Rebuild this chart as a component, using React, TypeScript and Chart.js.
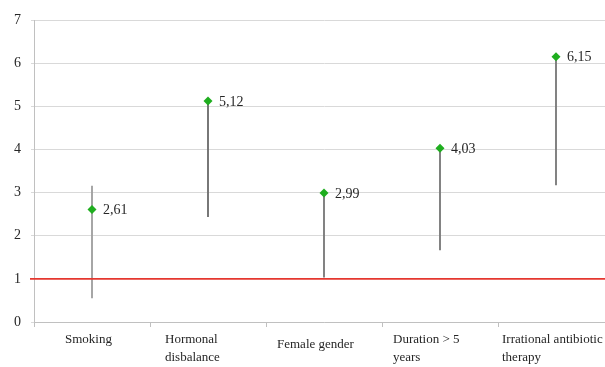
import React, { useEffect, useRef } from "react";
import { Chart, registerables } from "chart.js";

Chart.register(...registerables);

const categories: string[][] = [
  ["Smoking"],
  ["Hormonal", "disbalance"],
  ["Female gender"],
  ["Duration > 5", "years"],
  ["Irrational antibiotic", "therapy"],
];
const oddsRatio = [2.61, 5.12, 2.99, 4.03, 6.15];
const ciLow = [0.56, 2.44, 1.04, 1.67, 3.18];
const ciHigh = [3.15, 5.12, 2.99, 4.03, 6.15];
const valueLabels = ["2,61", "5,12", "2,99", "4,03", "6,15"];
const referenceValue = 1;
const yTicks = [0, 1, 2, 3, 4, 5, 6, 7];

const FONT = "'Liberation Serif', 'Times New Roman', serif";

export default function App() {
  const ref = useRef<HTMLCanvasElement>(null);

  useEffect(() => {
    const canvas = ref.current;
    if (!canvas) return;

    const refLinePlugin = {
      id: "refLine",
      afterDatasetsDraw(chart: any) {
        const y = chart.scales.y.getPixelForValue(referenceValue);
        const ctx = chart.ctx;
        ctx.save();
        ctx.strokeStyle = "#e5372f";
        ctx.lineWidth = 1.6;
        ctx.beginPath();
        ctx.moveTo(chart.chartArea.left - 4, y);
        ctx.lineTo(chart.width, y);
        ctx.stroke();
        ctx.restore();
      },
    };

    const valueLabelPlugin = {
      id: "valueLabels",
      afterDraw(chart: any) {
        const meta = chart.getDatasetMeta(1);
        const ctx = chart.ctx;
        ctx.save();
        ctx.font = `14px ${FONT}`;
        ctx.fillStyle = "#262626";
        ctx.textAlign = "left";
        ctx.textBaseline = "middle";
        meta.data.forEach((el: any, i: number) => {
          ctx.fillText(valueLabels[i], el.x + 11, el.y + 1);
        });
        ctx.restore();
      },
    };

    const catLabelPlugin = {
      id: "catLabels",
      afterDraw(chart: any) {
        const xs = chart.scales.x;
        const ctx = chart.ctx;
        const shiftX = [-27, -43, -47, -47, -54];
        const shiftY = [0, 0, 5, 0, 0];
        ctx.save();
        ctx.font = `13px ${FONT}`;
        ctx.fillStyle = "#262626";
        ctx.textAlign = "left";
        ctx.textBaseline = "middle";
        categories.forEach((lines, i) => {
          const x = xs.getPixelForTick(i) + shiftX[i];
          lines.forEach((line, k) => {
            ctx.fillText(line, x, xs.top + 18 + shiftY[i] + k * 17.5);
          });
        });
        ctx.restore();
      },
    };

    const chart = new Chart(canvas, {
      type: "bar",
      data: {
        labels: categories.map((c) => c.join(" ")),
        datasets: [
          {
            type: "bar",
            data: ciLow.map((lo, i) => [lo, ciHigh[i]]) as any,
            backgroundColor: ["#a0a0a0", "#6e6e6e", "#7a7a7a", "#7a7a7a", "#7a7a7a"],
            borderWidth: 0,
            barThickness: 1.2,
            order: 2,
          },
          {
            type: "line",
            data: oddsRatio,
            showLine: false,
            pointStyle: "rectRot",
            pointRadius: 4.5,
            pointBackgroundColor: "#1fae1f",
            pointBorderColor: "#1fae1f",
            pointBorderWidth: 0,
            order: 1,
          } as any,
        ],
      },
      options: {
        animation: false,
        responsive: false,
        devicePixelRatio: 1,
        events: [],
        layout: { padding: { left: 0, right: 6, top: 20, bottom: 0 } },
        plugins: {
          legend: { display: false },
          tooltip: { enabled: false },
        },
        scales: {
          x: {
            type: "category",
            offset: true,
            grid: {
              offset: true,
              drawOnChartArea: false,
              drawTicks: true,
              tickLength: 5,
              color: "#c0c0c0",
            },
            border: { color: "#c0c0c0" },
            ticks: { display: false },
            afterFit: (s: any) => {
              s.height = 45;
            },
          },
          y: {
            min: 0,
            max: 7,
            afterBuildTicks: (s: any) => {
              s.ticks = yTicks.map((v) => ({ value: v }));
            },
            grid: { color: "#d9d9d9", tickLength: 3, lineWidth: 1 },
            border: { color: "#c0c0c0" },
            ticks: {
              padding: 10,
              color: "#262626",
              font: { family: FONT, size: 14 },
            },
            afterFit: (s: any) => {
              s.width = 34;
            },
          },
        },
      },
      plugins: [refLinePlugin, valueLabelPlugin, catLabelPlugin],
    });

    return () => chart.destroy();
  }, []);

  return (
    <div
      style={{
        position: "fixed",
        left: 0,
        top: 0,
        width: 605,
        height: 367,
        overflow: "hidden",
        background: "#fff",
      }}
    >
      <canvas
        ref={ref}
        width={620}
        height={367}
        style={{ display: "block", width: 620, height: 367 }}
      />
    </div>
  );
}
